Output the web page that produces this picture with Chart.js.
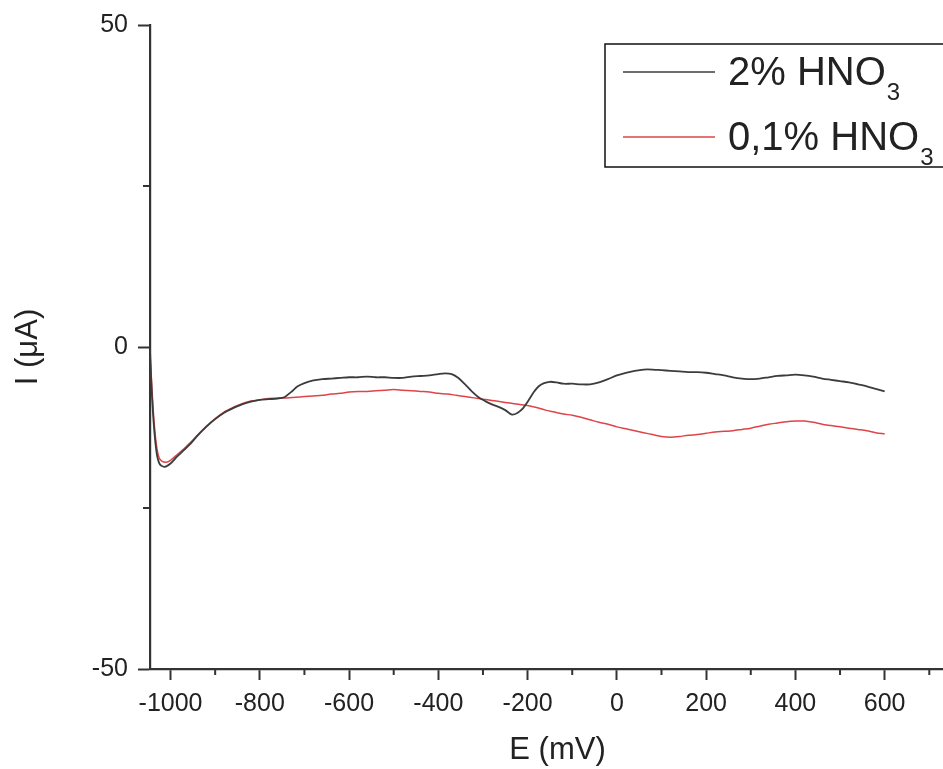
<!DOCTYPE html>
<html lang="en">
<head>
    <meta charset="UTF-8">
    <title>Polarisation curves in HNO3</title>
    <script src="https://cdn.jsdelivr.net/npm/chart.js"></script>
    <style>
        html, body { margin: 0; padding: 0; background: #fff; overflow: hidden; }
    </style>
</head>
<body>
    <canvas id="curveChart" width="990" height="769"></canvas>

    <script>
        // 2% HNO3 run
        const eBlack = [-1046, -1042, -1037, -1031, -1024, -1013, -1000, -985, -970, -955, -940, -920, -900, -880, -860, -840, -820, -800, -780, -760,
            -745, -730, -715, -700, -680, -660, -640, -620, -600, -580, -560, -540, -520, -500, -480, -460, -440, -420, -400, -385,
            -370, -355, -340, -325, -310, -295, -280, -265, -250, -235, -222, -210, -198, -186, -175, -163, -150, -135, -120, -100,
            -80, -60, -40, -20, 0, 20, 40, 60, 80, 100, 120, 140, 160, 180, 200, 220, 240, 260, 280, 300,
            320, 340, 360, 380, 400, 420, 440, 460, 480, 500, 520, 540, 560, 580, 600];
        const iBlack = [-0.5, -7, -12.5, -16.5, -18.2, -18.6, -18.1, -17.0, -16.0, -15.0, -13.8, -12.4, -11.2, -10.2, -9.5, -8.9, -8.5, -8.2, -8.1, -8.0,
            -7.8, -7.0, -6.1, -5.6, -5.2, -5.0, -4.9, -4.8, -4.7, -4.7, -4.6, -4.7, -4.7, -4.8, -4.8, -4.6, -4.5, -4.4, -4.2, -4.1,
            -4.2, -4.8, -5.8, -6.9, -7.8, -8.4, -8.9, -9.3, -9.8, -10.5, -10.2, -9.5, -8.3, -7.0, -6.1, -5.6, -5.4, -5.5, -5.7, -5.7,
            -5.8, -5.8, -5.5, -5.0, -4.4, -4.0, -3.7, -3.5, -3.5, -3.6, -3.7, -3.8, -3.9, -3.9, -4.0, -4.2, -4.4, -4.7, -4.9, -5.0,
            -4.9, -4.7, -4.5, -4.4, -4.3, -4.4, -4.6, -4.9, -5.1, -5.3, -5.5, -5.8, -6.1, -6.5, -6.9];

        // 0,1% HNO3 run
        const eRed = [-1046, -1042, -1037, -1031, -1024, -1010, -1000, -985, -970, -955, -940, -920, -900, -880, -860, -840, -820, -800, -780, -760,
            -740, -720, -700, -680, -660, -640, -620, -600, -580, -560, -540, -520, -500, -480, -460, -440, -420, -400, -380, -360,
            -340, -320, -300, -280, -260, -240, -220, -200, -180, -160, -140, -120, -100, -80, -60, -40, -20, 0, 20, 40,
            60, 80, 100, 120, 140, 160, 180, 200, 220, 240, 260, 280, 300, 320, 340, 360, 380, 400, 420, 440,
            460, 480, 500, 520, 540, 560, 580, 600];
        const iRed = [-1, -6, -11.5, -15.5, -17.4, -17.9, -17.6, -16.7, -15.8, -14.8, -13.7, -12.3, -11.1, -10.1, -9.4, -8.8, -8.4, -8.2, -8.0, -7.9,
            -7.9, -7.8, -7.7, -7.6, -7.5, -7.3, -7.2, -7.0, -6.9, -6.9, -6.8, -6.7, -6.6, -6.7, -6.8, -6.9, -7.0, -7.2, -7.3, -7.5,
            -7.7, -7.9, -8.1, -8.3, -8.5, -8.7, -8.9, -9.1, -9.4, -9.8, -10.1, -10.4, -10.6, -10.9, -11.3, -11.7, -12.0, -12.4, -12.7, -13.0,
            -13.3, -13.6, -13.9, -14.0, -13.9, -13.7, -13.6, -13.4, -13.2, -13.1, -13.0, -12.8, -12.6, -12.3, -12.0, -11.8, -11.6, -11.5, -11.5, -11.7,
            -12.0, -12.2, -12.4, -12.6, -12.8, -13.0, -13.3, -13.5];

        const seriesLabels = ['2% HNO₃', '0,1% HNO₃'];
        const seriesColors = ['#3c3c3c', '#de4449'];

        const xMajorTicks = [-1000, -800, -600, -400, -200, 0, 200, 400, 600];
        const xMinorTicks = [-900, -700, -500, -300, -100, 100, 300, 500, 700];
        const yMinorTicks = [-25, 25];

        const toPoints = (xs, ys) => xs.map((x, i) => ({ x: x, y: ys[i] }));

        const axisColor = '#333';
        const textColor = '#222';
        const fontFamily = '"Liberation Sans", Arial, sans-serif';

        // minor tick marks between the labelled ones
        const minorTicks = {
            id: 'minorTicks',
            afterDraw(chart) {
                const { ctx, scales } = chart;
                ctx.save();
                ctx.strokeStyle = axisColor;
                ctx.lineWidth = 2;
                ctx.beginPath();
                xMinorTicks.forEach(v => {
                    const px = scales.x.getPixelForValue(v);
                    if (px > scales.x.right) return;
                    ctx.moveTo(px, scales.x.top);
                    ctx.lineTo(px, scales.x.top + 6);
                });
                yMinorTicks.forEach(v => {
                    const py = scales.y.getPixelForValue(v);
                    ctx.moveTo(scales.y.right, py);
                    ctx.lineTo(scales.y.right - 7, py);
                });
                ctx.stroke();
                ctx.restore();
            }
        };

        // boxed legend with subscripted formula
        const boxLegend = {
            id: 'boxLegend',
            afterDraw(chart) {
                const ctx = chart.ctx;
                ctx.save();
                ctx.strokeStyle = '#111';
                ctx.lineWidth = 1.5;
                ctx.strokeRect(605, 44, 380, 123);
                chart.data.datasets.forEach((ds, i) => {
                    const y = 72 + i * 65;
                    ctx.strokeStyle = ds.borderColor;
                    ctx.lineWidth = 1.6;
                    ctx.beginPath();
                    ctx.moveTo(623, y);
                    ctx.lineTo(715, y);
                    ctx.stroke();

                    const main = ds.label.replace('₃', '');
                    ctx.fillStyle = textColor;
                    ctx.textBaseline = 'alphabetic';
                    ctx.textAlign = 'left';
                    ctx.font = '40px ' + fontFamily;
                    ctx.fillText(main, 728, y + 13);
                    const w = ctx.measureText(main).width;
                    ctx.font = '24px ' + fontFamily;
                    ctx.fillText('3', 728 + w + 1, y + 28);
                });
                ctx.restore();
            }
        };

        const ctx = document.getElementById('curveChart').getContext('2d');

        new Chart(ctx, {
            type: 'line',
            data: {
                datasets: [{
                    label: seriesLabels[0],
                    data: toPoints(eBlack, iBlack),
                    borderColor: seriesColors[0],
                    borderWidth: 1.8,
                    pointRadius: 0,
                    tension: 0.3,
                }, {
                    label: seriesLabels[1],
                    data: toPoints(eRed, iRed),
                    borderColor: seriesColors[1],
                    borderWidth: 1.5,
                    pointRadius: 0,
                    tension: 0.3,
                }],
            },
            options: {
                responsive: false,
                animation: false,
                layout: { padding: { top: 22, left: 0, right: 25, bottom: 0 } },
                plugins: {
                    legend: { display: false },
                    tooltip: { enabled: false },
                },
                scales: {
                    x: {
                        type: 'linear',
                        min: -1046,
                        max: 780,
                        afterFit: s => { s.height = 100; },
                        afterBuildTicks: s => { s.ticks = xMajorTicks.map(v => ({ value: v })); },
                        border: { color: axisColor, width: 2.2 },
                        grid: { drawOnChartArea: false, drawTicks: true, tickLength: 11, tickColor: axisColor, tickWidth: 2 },
                        ticks: { color: textColor, padding: 9, maxRotation: 0, callback: v => String(v), font: { size: 25, family: fontFamily } },
                        title: { display: true, text: 'E (mV)', color: textColor, padding: { top: 0, bottom: 0 }, font: { size: 31, family: fontFamily } },
                    },
                    y: {
                        type: 'linear',
                        min: -50,
                        max: 50,
                        afterFit: s => { s.width = 150; },
                        ticks: { stepSize: 50, color: textColor, padding: 10, callback: v => String(v), font: { size: 25, family: fontFamily } },
                        border: { color: axisColor, width: 2.2 },
                        grid: { drawOnChartArea: false, drawTicks: true, tickLength: 12, tickColor: axisColor, tickWidth: 2 },
                        title: { display: true, text: 'I (μA)', color: textColor, padding: { top: 10, bottom: 0 }, font: { size: 31, family: fontFamily } },
                    },
                },
            },
            plugins: [minorTicks, boxLegend],
        });
    </script>
</body>
</html>
